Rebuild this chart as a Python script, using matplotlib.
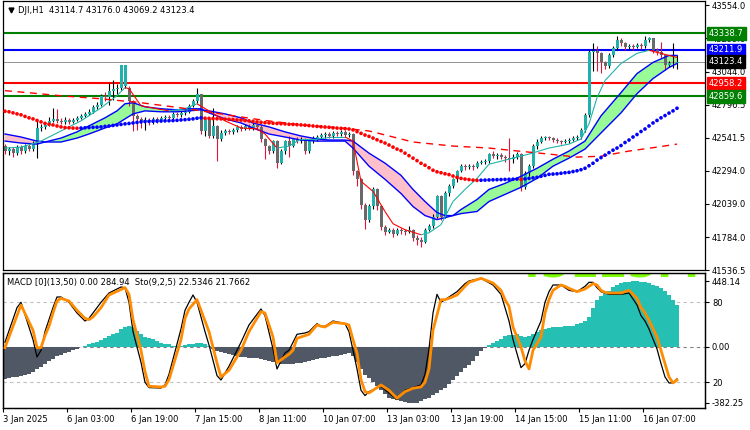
import numpy as np
import matplotlib
matplotlib.use("Agg")
import matplotlib.pyplot as plt
from matplotlib.collections import LineCollection
from matplotlib.transforms import blended_transform_factory

# ---- price bars (H1) ----
opens = [42480, 42442, 42457, 42426, 42472, 42442, 42480, 42457, 42503, 42618,
         42626, 42641, 42672, 42687, 42672, 42664, 42680, 42664, 42680, 42695,
         42710, 42725, 42741, 42779, 42795, 42864, 42856, 42902, 42917, 42925,
         42940, 42925, 42825, 42710, 42687, 42672, 42680, 42672, 42687, 42680,
         42695, 42703, 42695, 42725, 42718, 42733, 42741, 42787, 42825, 42879,
         42595, 42687, 42557, 42634, 42534, 42580, 42595, 42588, 42603, 42626,
         42611, 42634, 42618, 42641, 42626, 42534, 42480, 42442, 42518, 42350,
         42442, 42518, 42480, 42534, 42518, 42534, 42442, 42518, 42534, 42549,
         42564, 42572, 42557, 42580, 42572, 42588, 42564, 42572, 42288, 42227,
         42035, 41920, 42020, 42150, 42020, 41866, 41828, 41843, 41813, 41843,
         41836, 41828, 41843, 41782, 41767, 41751, 41843, 41874, 41943, 42097,
         41943, 42120, 42173, 42227, 42288, 42327, 42319, 42327, 42319, 42350,
         42357, 42365, 42419, 42403, 42411, 42396, 42388, 42380, 42396, 42419,
         42166, 42273, 42327, 42480, 42511, 42541, 42549, 42541, 42526, 42518,
         42511, 42518, 42526, 42541, 42549, 42603, 42718, 43193, 43201, 43186,
         43117, 43086, 43170, 43224, 43286, 43262, 43232, 43239, 43232, 43247,
         43239, 43286, 43300, 43209, 43193, 43170, 43094, 43109, 43114.7]
highs = [42495, 42472, 42470, 42490, 42485, 42495, 42500, 42518, 42687, 42645,
         42660, 42700, 42771, 42760, 42690, 42700, 42695, 42695, 42710, 42725,
         42740, 42760, 42795, 42815, 42880, 42890, 42960, 42980, 42950, 43101,
         43101, 42940, 42830, 42725, 42700, 42700, 42695, 42700, 42700, 42710,
         42715, 42715, 42740, 42740, 42745, 42755, 42800, 42840, 42925, 42880,
         42700, 42695, 42771, 42640, 42600, 42610, 42610, 42620, 42640, 42640,
         42650, 42645, 42655, 42650, 42640, 42545, 42490, 42530, 42525, 42455,
         42530, 42560, 42545, 42550, 42550, 42545, 42530, 42560, 42565, 42580,
         42590, 42585, 42595, 42595, 42600, 42600, 42585, 42580, 42300, 42240,
         42050, 42040, 42165, 42160, 42030, 41880, 41860, 41855, 41860, 41860,
         41850, 41870, 41850, 41800, 41790, 41855, 41890, 41960, 42110, 42110,
         42135, 42190, 42240, 42300, 42340, 42345, 42340, 42340, 42365, 42372,
         42380, 42430, 42440, 42430, 42425, 42410, 42541, 42420, 42435, 42425,
         42290, 42340, 42495, 42534, 42555, 42560, 42560, 42550, 42540, 42530,
         42535, 42540, 42555, 42565, 42615, 42730, 43210, 43262, 43240, 43200,
         43130, 43185, 43240, 43316, 43300, 43275, 43255, 43255, 43262, 43262,
         43316, 43310, 43305, 43230, 43270, 43180, 43130, 43262, 43176.0]
lows = [42420, 42410, 42395, 42415, 42420, 42430, 42440, 42445, 42388, 42595,
        42610, 42630, 42660, 42655, 42645, 42650, 42650, 42655, 42670, 42685,
        42700, 42715, 42730, 42760, 42785, 42820, 42790, 42830, 42880, 42910,
        42925, 42787, 42595, 42600, 42620, 42600, 42640, 42650, 42655, 42665,
        42680, 42675, 42685, 42700, 42705, 42720, 42730, 42775, 42810, 42572,
        42560, 42540, 42545, 42365, 42520, 42565, 42570, 42575, 42590, 42595,
        42600, 42600, 42605, 42600, 42510, 42380, 42420, 42430, 42311, 42340,
        42420, 42400, 42470, 42505, 42500, 42420, 42430, 42505, 42520, 42535,
        42545, 42540, 42545, 42555, 42560, 42550, 42550, 42260, 42173, 42000,
        41851, 41900, 42000, 41990, 41840, 41800, 41815, 41790, 41800, 41810,
        41805, 41815, 41760, 41730, 41713, 41740, 41830, 41860, 41930, 41920,
        41930, 42100, 42160, 42210, 42280, 42300, 42305, 42300, 42310, 42340,
        42345, 42350, 42390, 42385, 42380, 42360, 42288, 42350, 42380, 42135,
        42150, 42250, 42310, 42460, 42500, 42530, 42525, 42510, 42500, 42495,
        42500, 42505, 42515, 42530, 42535, 42590, 42700, 43055, 43050, 43040,
        43070, 43075, 43160, 43210, 43245, 43215, 43220, 43215, 43225, 43220,
        43225, 43270, 43190, 43170, 43150, 43060, 43080, 43071, 43069.2]
closes = [42442, 42457, 42426, 42472, 42442, 42480, 42457, 42503, 42618, 42626,
          42641, 42672, 42687, 42672, 42664, 42680, 42664, 42680, 42695, 42710,
          42725, 42741, 42779, 42795, 42864, 42856, 42902, 42917, 42925, 43094,
          43101, 42825, 42710, 42687, 42672, 42680, 42672, 42687, 42680, 42695,
          42703, 42695, 42725, 42718, 42733, 42741, 42787, 42825, 42879, 42595,
          42687, 42557, 42634, 42534, 42580, 42595, 42588, 42603, 42626, 42611,
          42634, 42618, 42641, 42626, 42534, 42480, 42442, 42518, 42350, 42442,
          42518, 42480, 42534, 42518, 42534, 42442, 42518, 42534, 42549, 42564,
          42572, 42557, 42580, 42572, 42588, 42564, 42572, 42288, 42227, 42035,
          41920, 42020, 42150, 42020, 41866, 41828, 41843, 41813, 41843, 41836,
          41828, 41843, 41782, 41767, 41751, 41843, 41874, 41943, 42097, 41943,
          42120, 42173, 42227, 42288, 42327, 42319, 42327, 42319, 42350, 42357,
          42365, 42419, 42403, 42411, 42396, 42388, 42380, 42396, 42419, 42166,
          42273, 42327, 42480, 42511, 42541, 42549, 42541, 42526, 42518, 42511,
          42518, 42526, 42541, 42549, 42603, 42718, 43193, 43201, 43186, 43117,
          43086, 43170, 43224, 43286, 43262, 43232, 43239, 43232, 43247, 43239,
          43286, 43300, 43209, 43193, 43170, 43094, 43109, 43114.7, 43123.4]

# ---- trailing dotted average (one dot per bar) ----
dots = [42745, 42741, 42733, 42725, 42718, 42706, 42695, 42687, 42675, 42664,
        42653, 42646, 42641, 42633, 42626, 42621, 42619, 42617, 42616, 42617,
        42619, 42621, 42623, 42624, 42626, 42630, 42633, 42637, 42641, 42645,
        42649, 42652, 42656, 42660, 42664, 42667, 42668, 42669, 42670, 42671,
        42672, 42673, 42674, 42676, 42679, 42681, 42684, 42687, 42692, 42695,
        42692, 42691, 42689, 42688, 42687, 42685, 42683, 42682, 42679, 42678,
        42675, 42672, 42668, 42664, 42661, 42658, 42656, 42654, 42652, 42650,
        42649, 42646, 42645, 42643, 42641, 42639, 42636, 42633, 42630, 42627,
        42625, 42623, 42619, 42617, 42615, 42613, 42610, 42603, 42590, 42577,
        42564, 42554, 42541, 42528, 42515, 42503, 42488, 42472, 42457, 42445,
        42426, 42407, 42388, 42369, 42349, 42334, 42315, 42296, 42284, 42277,
        42269, 42263, 42252, 42242, 42234, 42229, 42225, 42221, 42219, 42220,
        42221, 42222, 42223, 42224, 42225, 42226, 42227, 42228, 42229, 42226,
        42230, 42234, 42238, 42242, 42250, 42257, 42265, 42267, 42269, 42273,
        42277, 42280, 42286, 42292, 42300, 42311, 42330, 42349, 42373, 42392,
        42411, 42430, 42449, 42465, 42484, 42507, 42526, 42549, 42568, 42591,
        42610, 42633, 42656, 42675, 42695, 42712, 42731, 42748, 42768]

# ---- two-line band (fast / slow) ----
band_idx = [0, 4, 8, 10, 14, 18, 21, 25, 28, 30, 32, 35, 39, 43, 46, 49, 51, 55, 59, 62,
            66, 70, 74, 78, 81, 85, 87, 91, 95, 99, 102, 105, 108, 110, 112, 114, 118, 121, 125, 129,
            133, 137, 141, 145, 149, 154, 158, 162, 166, 168]
band_fast = [42518, 42503, 42495, 42511, 42541, 42588, 42634, 42695, 42748, 42802,
             42810, 42779, 42764, 42756, 42764, 42764, 42733, 42687, 42656, 42618,
             42572, 42549, 42526, 42518, 42518, 42518, 42465, 42327, 42227, 42119,
             42020, 41951, 41920, 41935, 41951, 41997, 42073, 42150, 42196, 42250,
             42311, 42380, 42442, 42518, 42710, 42887, 43032, 43117, 43170, 43170]
band_slow = [42572, 42549, 42518, 42511, 42511, 42541, 42572, 42618, 42649, 42687,
             42725, 42748, 42741, 42741, 42748, 42756, 42748, 42725, 42695, 42656,
             42626, 42588, 42557, 42534, 42526, 42526, 42518, 42426, 42350, 42257,
             42150, 42058, 41974, 41951, 41951, 41966, 41982, 42058, 42112, 42166,
             42234, 42327, 42388, 42457, 42580, 42733, 42879, 42994, 43078, 43109]

# ---- thin fast average ----
thin_idx = [0, 4, 9, 14, 19, 24, 28, 30, 31, 34, 38, 41, 45, 48, 51, 55, 59, 63, 65, 68,
            71, 74, 78, 82, 85, 87, 89, 92, 95, 97, 100, 104, 106, 109, 112, 115, 118, 121, 124, 131,
            136, 141, 144, 146, 148, 150, 154, 158, 161, 164, 166, 168]
thin_val = [42465, 42472, 42518, 42595, 42672, 42771, 42864, 42925, 42917, 42787,
            42764, 42748, 42764, 42802, 42748, 42672, 42618, 42611, 42572, 42465,
            42480, 42534, 42534, 42549, 42549, 42518, 42212, 42135, 41982, 41889,
            41843, 41805, 41820, 41882, 42058, 42150, 42234, 42342, 42365, 42419,
            42465, 42495, 42534, 42649, 42848, 42979, 43109, 43186, 43209, 43186,
            43170, 43155]

# ---- slow dashed average ----
dash_idx = [0, 6, 14, 24, 34, 44, 54, 64, 74, 84, 91, 93, 102, 112, 121, 126, 136, 143, 149, 156, 163, 168]
dash_val = [42902, 42886, 42863, 42840, 42810, 42771, 42725, 42679, 42641, 42618, 42595,
            42580, 42511, 42480, 42465, 42449, 42419, 42396, 42403, 42442, 42472, 42495]

# ---- horizontal levels ----
levels = [43338.7, 43211.9, 42958.2, 42859.6]
level_colors = ["#008000", "#0000FF", "#FF0000", "#008000"]
bid = 43123.4
price_ticks = [43554.0, 43299.0, 43044.0, 42796.5, 42541.5, 42294.0, 42039.0, 41784.0, 41536.5]

# ---- MACD histogram ----
macd = [-219, -212, -205, -202, -199, -192, -182, -171, -151, -137,
        -117, -93, -80, -63, -56, -42, -32, -22, -12, -2,
        9, 16, 26, 33, 46, 60, 73, 87, 97, 121,
        138, 141, 133, 107, 87, 70, 60, 50, 39, 29,
        22, 16, 9, 5, 9, 12, 16, 22, 29, 26,
        19, 5, -12, -25, -35, -42, -49, -56, -63, -66,
        -69, -73, -76, -76, -83, -90, -97, -103, -110, -114,
        -117, -117, -114, -110, -107, -103, -97, -90, -83, -76,
        -73, -69, -63, -59, -56, -49, -42, -63, -103, -151,
        -192, -212, -239, -267, -297, -324, -345, -355, -362, -369,
        -375, -379, -382.25, -379, -372, -358, -348, -331, -314, -297,
        -277, -253, -226, -199, -171, -144, -124, -97, -63, -29,
        -5, 12, 29, 43, 56, 73, 80, 80, 84, 77,
        70, 73, 87, 104, 114, 124, 131, 135, 138, 138,
        141, 141, 145, 158, 165, 175, 203, 264, 318, 345,
        366, 383, 407, 424, 434, 441, 444, 448.14, 447, 444,
        441, 434, 424, 413, 400, 379, 352, 320, 284.94]

# ---- stochastic (9,2,5) ----
sig_idx = [0, 4, 7, 8, 9, 10, 11, 12, 13, 14, 16, 18, 20, 21, 22, 24, 26, 30, 31, 32,
           34, 35, 36, 39, 40, 41, 44, 45, 46, 48, 50, 51, 53, 54, 56, 59, 61, 64, 65, 67,
           68, 70, 71, 72, 73, 75, 76, 78, 79, 80, 82, 85, 86, 87, 88, 89, 90, 91, 94, 96,
           98, 100, 102, 104, 105, 106, 107, 109, 110, 111, 113, 115, 116, 119, 122, 124, 125, 126, 127, 129,
           130, 131, 132, 134, 135, 136, 137, 139, 140, 141, 143, 145, 146, 147, 148, 149, 150, 151, 154, 156,
           158, 159, 160, 161, 163, 164, 165, 166, 167, 168]
sig_val = [46, 78, 59, 46, 46, 55, 62, 72, 81, 83, 81, 74, 68, 67, 69, 76, 85.5, 91, 86, 67,
           44, 28, 17, 16.5, 17, 22, 52, 68, 75, 82, 66, 58, 34.5, 24, 29, 44, 58, 73, 72, 54,
           34.5, 39, 41, 44, 53, 55, 56, 63, 62, 61.5, 65, 64, 63, 52, 42, 22, 13, 12, 18, 14,
           8, 13, 15.5, 16.5, 20, 30, 59, 82, 82, 83, 85.5, 92, 95, 98, 94.5, 89, 82, 77, 61.5, 46.5,
           36, 30, 44, 54, 72, 82, 89, 93, 92, 90.5, 88, 90, 92, 94, 93, 89, 87.5, 87, 87, 89,
           83, 76, 72, 66.5, 54, 44, 34, 24, 19.5, 21.7662]
main_idx = [0, 3, 4, 7, 8, 9, 10, 12, 13, 14, 16, 18, 20, 21, 22, 24, 26, 29, 30, 31,
            32, 34, 35, 36, 39, 40, 41, 44, 45, 46, 47, 48, 50, 51, 53, 54, 56, 59, 61, 64,
            65, 67, 68, 70, 71, 72, 73, 75, 76, 78, 79, 80, 82, 85, 86, 87, 88, 89, 90, 91,
            94, 96, 98, 100, 102, 104, 105, 106, 107, 108, 109, 110, 111, 113, 115, 116, 119, 122, 124, 125,
            126, 127, 129, 130, 131, 132, 134, 135, 136, 137, 139, 140, 141, 143, 145, 146, 147, 148, 149, 150,
            151, 154, 156, 158, 159, 160, 161, 163, 164, 165, 166, 167, 168]
main_val = [50, 76, 80, 52, 39, 44, 58, 76, 84, 84, 80, 72, 66, 68, 72, 80, 87, 91.5, 91, 80,
            58, 35, 20, 16, 15.7, 18, 26, 60, 74, 80, 85.5, 80, 58, 48, 25, 21.7, 32, 50, 63, 75,
            70, 45, 30, 42, 44, 50, 56, 57, 58, 64, 62, 62, 66, 64, 58, 44, 30, 14, 10, 13,
            17, 12, 7, 14, 16, 18, 26, 45, 72, 86, 80, 82, 84, 88, 94, 96, 98, 93, 86, 76,
            66, 52, 31, 34, 44, 52, 66, 80, 88, 93, 93, 91, 89, 88, 92, 95, 95, 91, 88, 87,
            86, 86, 87, 78, 70, 66, 60, 45, 34, 24, 19.5, 19.5, 22.5346]

time_labels = ["3 Jan 2025", "6 Jan 03:00", "6 Jan 19:00", "7 Jan 15:00", "8 Jan 11:00",
               "10 Jan 07:00", "13 Jan 03:00", "13 Jan 19:00", "14 Jan 15:00",
               "15 Jan 11:00", "16 Jan 07:00"]
bars_per_label = 16

TEAL = "#20B2AA"
GRAY = "#696969"
CRIMSON = "#DC143C"


def main():
    plt.rcParams["font.family"] = ["DejaVu Sans"]
    plt.rcParams["font.size"] = 6

    o = np.array(opens, float)
    h = np.array(highs, float)
    l = np.array(lows, float)
    c = np.array(closes, float)
    x = np.arange(len(c))
    up = c >= o

    fig = plt.figure(figsize=(7.5, 4.3), dpi=100)
    ax = fig.add_axes([3 / 750, 1 - 270 / 430, 702 / 750, 269 / 430])
    ax2 = fig.add_axes([3 / 750, 1 - 408 / 430, 702 / 750, 135 / 430], sharex=ax)

    # --- main price panel ---
    bi = np.array(band_idx)
    bf = np.array(band_fast, float)
    bs = np.array(band_slow, float)
    ax.fill_between(bi, bf, bs, where=bf >= bs, interpolate=True, color="#98FB98", lw=0, zorder=1)
    ax.fill_between(bi, bf, bs, where=bf <= bs, interpolate=True, color="#FFC0CB", lw=0, zorder=1)

    for lv, col in zip(levels, level_colors):
        ax.axhline(lv, color=col, lw=1.5, zorder=1.5)
    ax.axhline(bid, color="#909090", lw=0.7, zorder=1.5)

    ax.vlines(x, l, h, colors=np.where(up, "black", CRIMSON), lw=0.8, zorder=2)
    body = np.maximum(np.abs(c - o), 4)
    ax.bar(x, body, bottom=np.minimum(o, c), width=0.75,
           color=np.where(up, TEAL, GRAY), lw=0, zorder=2.1)

    ax.plot(bi, bf, color="#0000FF", lw=1.0, zorder=3)
    ax.plot(bi, bs, color="#0000FF", lw=1.0, zorder=3)

    pts = np.column_stack([thin_idx, thin_val]).astype(float)
    segs = np.stack([pts[:-1], pts[1:]], axis=1)
    tcols = [TEAL if b >= a else "#FF0000" for a, b in zip(thin_val[:-1], thin_val[1:])]
    ax.add_collection(LineCollection(segs, colors=tcols, linewidths=0.8, zorder=3))

    ax.plot(dash_idx, dash_val, color="#FF0000", lw=1.0, dashes=(5, 4), zorder=3)

    d = np.array(dots, float)
    dcol = ["#FF0000"] + ["#0000FF" if d[i] >= d[i - 1] else "#FF0000" for i in range(1, len(d))]
    ax.scatter(x, d, c=dcol, s=7, lw=0, zorder=4)

    ax.set_xlim(-0.5, 175)
    ax.set_ylim(41536.5, 43584.5)
    ax.yaxis.tick_right()
    ax.set_yticks(price_ticks, [f"{v:.1f}" for v in price_ticks])
    ax.tick_params(axis="y", length=3, pad=2, labelsize=6)
    ax.tick_params(axis="x", bottom=False, labelbottom=False)
    for s in ax.spines.values():
        s.set_linewidth(0.9)

    yx = blended_transform_factory(ax.transAxes, ax.transData)
    for lv, col in list(zip(levels, level_colors)) + [(bid, "black")]:
        ax.text(1.0 + 4 / 702, lv, f"{lv:.1f}", transform=yx, ha="left", va="center",
                color="white", fontsize=6, zorder=10,
                bbox=dict(boxstyle="square,pad=0.22", fc=col, ec=col))

    ax.plot([8 / 702], [0.966], marker="v", color="black", ms=3.5, transform=ax.transAxes, clip_on=False)
    ax.text(15 / 702, 0.966, "DJI,H1  43114.7 43176.0 43069.2 43123.4",
            transform=ax.transAxes, ha="left", va="center", fontsize=6)

    # --- MACD + stochastic panel ---
    mv = np.array(macd, float)
    ax2.bar(x, mv, width=0.8, color=np.where(mv >= 0, "#26BFB3", "#4F5864"), lw=0, zorder=2)
    ax2.set_ylim(-416.3, 502.6)
    ax2.axhline(0, color="#808080", lw=0.8, ls=(0, (3, 3)), zorder=1)

    ax3 = ax2.twinx()
    ax3.set_ylim(0.7, 102)
    lvl_tr = blended_transform_factory(ax2.transAxes, ax3.transData)
    for lv in (80, 20):
        ax2.plot([0, 1], [lv, lv], transform=lvl_tr, color="#C0C0C0", lw=0.8, ls=(0, (3, 3)), zorder=1)
    ax3.plot(main_idx, main_val, color="black", lw=0.9, zorder=3)
    ax3.plot(sig_idx, sig_val, color="#FF8C00", lw=2.0, zorder=4)

    # bottom edge of a large label cut off by the panel border
    big = ax2.text((607 - 3) / 702, 1 - 5 / 135, "43123.4", transform=ax2.transAxes, ha="center",
                   va="baseline", fontsize=30, fontweight="bold", color="#7CFC00", zorder=1)
    big.set_clip_box(ax2.bbox)
    big.set_clip_on(True)
    ax2.text(4 / 702, 1 - 10 / 135, "MACD [0](13,50) 0.00 284.94  Sto(9,2,5) 22.5346 21.7662",
             transform=ax2.transAxes, ha="left", va="center", fontsize=6, zorder=5)

    ax2.yaxis.tick_right()
    ax2.set_yticks([448.14, 0, -382.25], ["448.14", "0.00", "-382.25"])
    ax2.tick_params(axis="y", length=3, pad=2, labelsize=6)
    ax3.set_yticks([80, 20], ["80", "20"])
    ax3.tick_params(axis="y", length=3, pad=2, labelsize=6)

    ticks = [k * bars_per_label - 0.5 for k in range(len(time_labels))]
    ax2.set_xticks(ticks, time_labels)
    ax2.tick_params(axis="x", length=3, pad=2, labelsize=6)
    for t in ax2.get_xticklabels():
        t.set_ha("left")
    for s in list(ax2.spines.values()) + list(ax3.spines.values()):
        s.set_linewidth(0.9)

    fig.savefig("out.png", dpi=100)


if __name__ == "__main__":
    main()
